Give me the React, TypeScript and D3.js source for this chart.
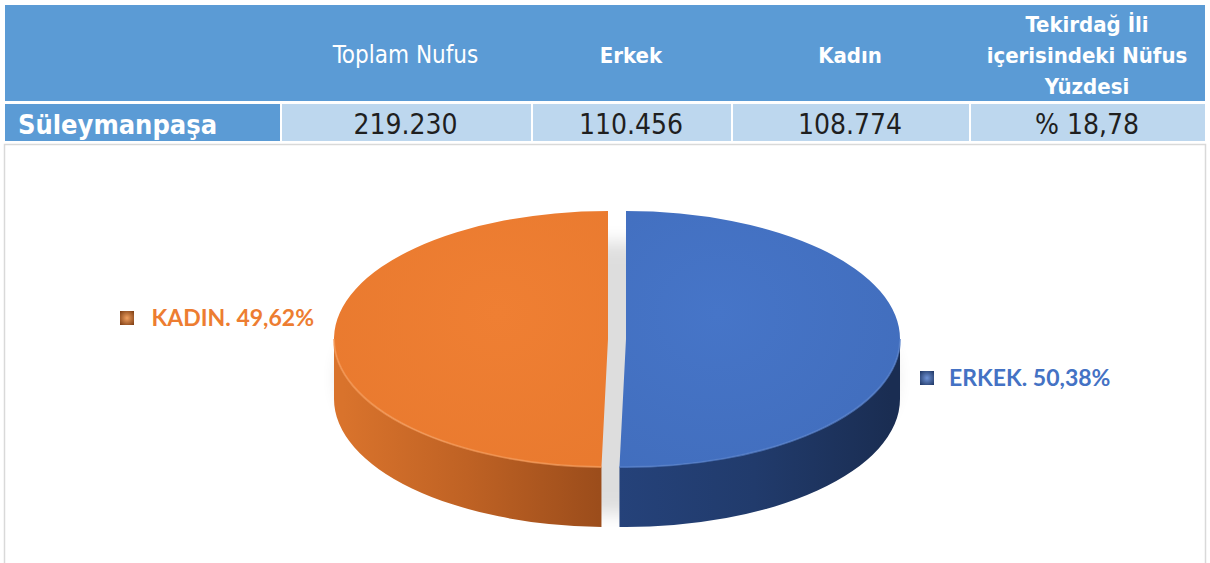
import React from "react";
import * as d3 from "d3";

// table data
const headerLines: string[][] = [
  [],
  ["Toplam Nufus"],
  ["Erkek"],
  ["Kadın"],
  ["Tekirdağ İli", "içerisindeki Nüfus", "Yüzdesi"],
];
const headerBold = [true, false, true, true, true];
const rowLabel = "Süleymanpaşa";
const rowValues = ["219.230", "110.456", "108.774", "% 18,78"];

// pie data
const sliceNames = ["ERKEK", "KADIN"];
const sliceValues = [50.38, 49.62];
const sliceLabels = ["50,38%", "49,62%"];

// layout
const W = 1210;
const H = 563;
const colEdges = [5, 280, 531, 731, 969, 1205];
const headTop = 5;
const headBottom = 101;
const rowTop = 104;
const rowBottom = 141;
const narrow = "'Liberation Sans Narrow', 'DejaVu Sans Condensed', 'Roboto', sans-serif";
const labelFont = "Lato, 'Open Sans', sans-serif";

const cx = 617;
const cy = 339;
const rx = 274;
const ry = 128;
const depth = 60;
const explode = 9;

const textColors = ["#4472C4", "#ED7D31"];

function Table() {
  const mid = (i: number) => (colEdges[i] + colEdges[i + 1]) / 2;
  return (
    <g>
      <rect x={headTop} y={headTop} width={colEdges[5] - colEdges[0]} height={headBottom - headTop} fill="#5B9BD5" />
      {headerLines.map((lines, i) => {
        const base = lines.length === 1 ? 63 : 32;
        return lines.map((ln, j) => (
          <text key={i + "-" + j} x={mid(i)} y={base + j * 31} textAnchor="middle" fill="#fff"
            fontFamily={narrow} fontSize={headerBold[i] ? 22 : 24} fontWeight={headerBold[i] ? 700 : 400}>{ln}</text>
        ));
      })}
      <rect x={colEdges[0]} y={rowTop} width={colEdges[1] - colEdges[0]} height={rowBottom - rowTop} fill="#5B9BD5" />
      <text x={18} y={134} fill="#fff" fontFamily={narrow} fontSize={27} fontWeight={700}>{rowLabel}</text>
      {rowValues.map((v, i) => (
        <g key={v}>
          <rect x={colEdges[i + 1] + 2} y={rowTop} width={colEdges[i + 2] - colEdges[i + 1] - 2} height={rowBottom - rowTop} fill="#BDD7EE" />
          <text x={mid(i + 1)} y={134} textAnchor="middle" fill="#1f1f1f" fontFamily={narrow} fontSize={28}>{v}</text>
        </g>
      ))}
    </g>
  );
}

function Pie3D() {
  const arcs = d3.pie<number>().sort(null).value((d) => d)(sliceValues);

  const pt = (a: number, dx: number, yOff = 0): [number, number] => [
    cx + dx + rx * Math.sin(a),
    cy - ry * Math.cos(a) + yOff,
  ];

  return (
    <g>
      <defs>
        <filter id="shadowBlur" x="-20%" y="-30%" width="140%" height="160%">
          <feGaussianBlur stdDeviation="9" />
        </filter>
        <linearGradient id="sideBlue" gradientUnits="userSpaceOnUse" x1={cx} x2={cx + rx} y1={0} y2={0}>
          <stop offset="0" stopColor="#25427a" />
          <stop offset="0.5" stopColor="#213b6c" />
          <stop offset="1" stopColor="#1a2d52" />
        </linearGradient>
        <linearGradient id="sideOrange" gradientUnits="userSpaceOnUse" x1={cx - rx} x2={cx} y1={0} y2={0}>
          <stop offset="0" stopColor="#d9732c" />
          <stop offset="0.45" stopColor="#bf6224" />
          <stop offset="1" stopColor="#974a1a" />
        </linearGradient>
        <radialGradient id="topBlue" cx="0.35" cy="0.4" r="0.8">
          <stop offset="0" stopColor="#4675c8" />
          <stop offset="1" stopColor="#416dbc" />
        </radialGradient>
        <radialGradient id="topOrange" cx="0.6" cy="0.4" r="0.8">
          <stop offset="0" stopColor="#ef7f33" />
          <stop offset="1" stopColor="#e8792e" />
        </radialGradient>
        <radialGradient id="markBlue" cx="0.5" cy="0.5" r="0.7">
          <stop offset="0" stopColor="#6f93d6" />
          <stop offset="1" stopColor="#1d3461" />
        </radialGradient>
        <radialGradient id="markOrange" cx="0.5" cy="0.5" r="0.7">
          <stop offset="0" stopColor="#f0a060" />
          <stop offset="1" stopColor="#7a3a10" />
        </radialGradient>
      </defs>

      <ellipse cx={cx} cy={cy + depth * 0.65} rx={rx + 4} ry={ry + 8} fill="#000" opacity={0.13} filter="url(#shadowBlur)" />

      {arcs.map((a, i) => {
        const m = (a.startAngle + a.endAngle) / 2;
        const dx = explode * Math.sin(m);
        const large = a.endAngle - a.startAngle > Math.PI ? 1 : 0;
        const p0 = pt(a.startAngle, dx);
        const p1 = pt(a.endAngle, dx);
        const top = `M${cx + dx},${cy} L${p0[0]},${p0[1]} A${rx},${ry} 0 ${large} 1 ${p1[0]},${p1[1]} Z`;

        const s = Math.max(a.startAngle, Math.PI / 2);
        const e = Math.min(a.endAngle, (3 * Math.PI) / 2);
        const s0 = pt(s, dx);
        const e0 = pt(e, dx);
        const s1 = pt(s, dx, depth);
        const e1 = pt(e, dx, depth);
        const side = `M${s0[0]},${s0[1]} A${rx},${ry} 0 0 1 ${e0[0]},${e0[1]} L${e1[0]},${e1[1]} A${rx},${ry} 0 0 0 ${s1[0]},${s1[1]} Z`;
        const rim = `M${s0[0]},${s0[1]} A${rx},${ry} 0 0 1 ${e0[0]},${e0[1]}`;
        const blue = i === 0;
        return (
          <g key={sliceNames[i]}>
            <path d={side} fill={blue ? "url(#sideBlue)" : "url(#sideOrange)"} />
            <path d={top} fill={blue ? "url(#topBlue)" : "url(#topOrange)"} />
            <path d={rim} fill="none" stroke={blue ? "#5580cc" : "#f59a58"} strokeWidth={2} opacity={0.7} />
          </g>
        );
      })}

      {/* labels */}
      {arcs.map((a, i) => {
        const blue = i === 0;
        const lx = blue ? cx + rx + 58 : cx - rx - 29;
        const ly = blue ? cy + 47 : cy - 13;
        const mx = blue ? lx - 29 : lx - 194;
        return (
          <g key={"lab" + i}>
            <rect x={mx} y={ly - 15} width={14} height={14} fill={blue ? "url(#markBlue)" : "url(#markOrange)"} />
            <text x={lx} y={ly} textAnchor={blue ? "start" : "end"} fill={textColors[i]}
              fontFamily={labelFont} fontWeight={700} fontSize={23}>
              {sliceNames[i]}. {sliceLabels[i]}
            </text>
          </g>
        );
      })}
    </g>
  );
}

export default function App() {
  return (
    <svg width={W} height={H} style={{ position: "absolute", left: 0, top: 0, background: "#fff" }}>
      <rect x={4.5} y={144.5} width={1201} height={H} fill="#fff" stroke="#d9d9d9" strokeWidth={1.5} />
      <Table />
      <Pie3D />
    </svg>
  );
}
